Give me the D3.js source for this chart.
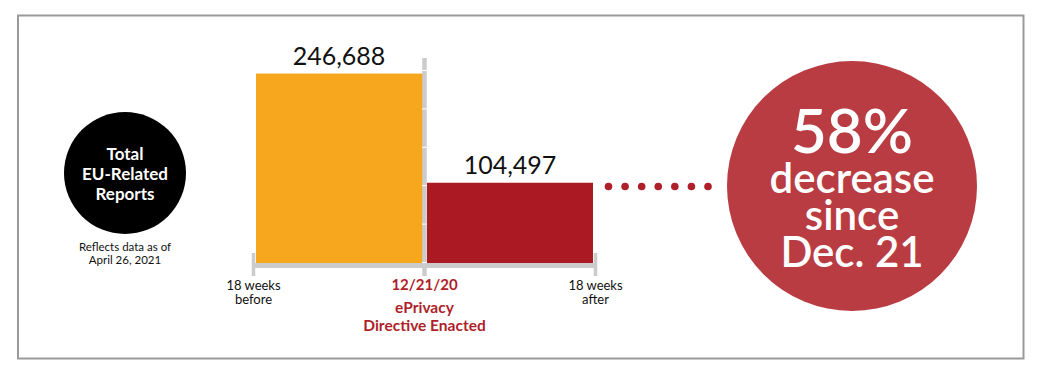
<!DOCTYPE html>
<html><head><meta charset="utf-8">
<script src="https://cdn.jsdelivr.net/npm/d3@7"></script>
<style>body{margin:0;background:#fff}svg{display:block}text{font-family:Lato,"Open Sans",sans-serif}</style>
</head><body>
<svg id="c" width="1042" height="375"></svg>
<script>
const periods = ["18 weeks before", "18 weeks after"];
const periodStart = [-18, 0];
const periodEnd = [0, 18];
const values = [246688, 104497];
const barColors = ["#f6a71e", "#ab1a22"];
const xTicks = [-18, 0, 18];
const xTickLabels = [["18 weeks","before"], ["12/21/20"], ["18 weeks","after"]];
const yTicks = [0, 50000, 100000, 150000, 200000, 250000];
const eventLabel = ["ePrivacy", "Directive Enacted"];
const badgeLines = ["Total", "EU-Related", "Reports"];
const noteLines = ["Reflects data as of", "April 26, 2021"];
const calloutLines = ["58%", "decrease", "since", "Dec. 21"];

const svg = d3.select("#c");
const red = "#ae1f2a";
const gray = "#cbcbcb";

svg.append("rect").attr("x",18).attr("y",15.5).attr("width",1005.5).attr("height",343)
  .attr("fill","none").attr("stroke","#9a9a9a").attr("stroke-width",2);

const x = d3.scaleLinear().domain([-18,18]).range([253.5,595.5]);
const y = d3.scaleLinear().domain([0,250000]).range([263,71]);

// bars
svg.selectAll("rect.bar").data(values).enter().append("rect")
  .attr("x",(d,i)=> x(periodStart[i])+2.5)
  .attr("width",(d,i)=> x(periodEnd[i]) - x(periodStart[i]) - 5 + (i===0?1:0))
  .attr("y",d=>y(d)).attr("height",d=>y(0)-y(d))
  .attr("fill",(d,i)=>barColors[i]);

// horizontal axis
svg.append("line").attr("x1",x(-18)-1.5).attr("x2",x(18)+1.5).attr("y1",265.5).attr("y2",265.5)
  .attr("stroke",gray).attr("stroke-width",5);
svg.selectAll("line.xt").data(xTicks).enter().append("line")
  .attr("x1",d=>x(d)).attr("x2",d=>x(d)).attr("y1",d=>d===0?58:253).attr("y2",276)
  .attr("stroke",gray).attr("stroke-width",d=>d===0?4.5:3.5);
// notches on central axis
svg.selectAll("line.yt").data(yTicks).enter().append("line")
  .attr("x1",x(0)-2.5).attr("x2",x(0)+2.5).attr("y1",d=>y(d)-0.5).attr("y2",d=>y(d)-0.5)
  .attr("stroke","#fff").attr("stroke-width",1);

// value labels
svg.selectAll("text.val").data(values).enter().append("text")
  .attr("x",(d,i)=>(x(periodStart[i])+x(periodEnd[i]))/2)
  .attr("y",d=>y(d)-9).attr("text-anchor","middle")
  .attr("font-size",25).attr("fill","#111").text(d=>d3.format(",")(d));

// x tick labels
xTickLabels.forEach((lines,i)=>{
  const t = svg.append("text").attr("x",x(xTicks[i])).attr("y",290).attr("text-anchor","middle")
    .attr("font-size", i===1?15:13).attr("font-weight", i===1?"bold":"normal")
    .attr("fill", i===1?red:"#111");
  lines.forEach((l,j)=>t.append("tspan").attr("x",x(xTicks[i])).attr("dy",j===0?0:14).text(l));
});
const ev = svg.append("text").attr("x",x(0)).attr("y",313).attr("text-anchor","middle")
  .attr("font-size",15.5).attr("font-weight","bold").attr("fill",red);
eventLabel.forEach((l,j)=>ev.append("tspan").attr("x",x(0)).attr("dy",j===0?0:18).text(l));

// left badge
svg.append("circle").attr("cx",125).attr("cy",173).attr("r",61).attr("fill","#000");
const bt = svg.append("text").attr("text-anchor","middle")
  .attr("font-size",17).attr("font-weight","bold").attr("fill","#fff");
badgeLines.forEach((l,i)=>bt.append("tspan").attr("x",125).attr("y",160+i*20).text(l));
const nt = svg.append("text").attr("text-anchor","middle").attr("font-size",11.5).attr("fill","#111");
noteLines.forEach((l,i)=>nt.append("tspan").attr("x",125).attr("y",251+i*12.5).text(l));

// dotted connector
const dots = d3.range(7);
const dx = d3.scaleLinear().domain([0,6]).range([608.5,708]);
svg.selectAll("circle.dot").data(dots).enter().append("circle")
  .attr("cx",d=>dx(d)).attr("cy",186.5).attr("r",3.8).attr("fill",red);

// callout circle
svg.append("circle").attr("cx",852).attr("cy",186).attr("r",125).attr("fill","#b93c42");
const cl = [{s:62,y:153},{s:42,y:193},{s:42,y:230},{s:42,y:267}];
const ct = svg.append("text").attr("text-anchor","middle").attr("font-weight",600).attr("fill","#fff");
calloutLines.forEach((l,i)=>ct.append("tspan").attr("x",852).attr("y",cl[i].y)
  .attr("font-size",cl[i].s).text(l));
</script>
</body></html>
